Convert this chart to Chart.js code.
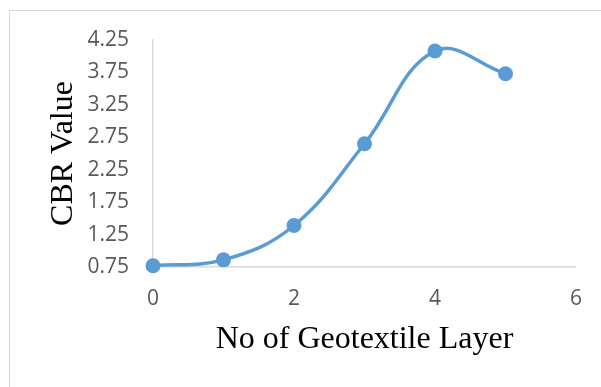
<!DOCTYPE html>
<html>
<head>
<meta charset="utf-8">
<script src="https://cdn.jsdelivr.net/npm/chart.js@4"></script>
<style>
    html, body {margin:0; padding:0; background:#fff;}
    #wrap {position:relative; width:601px; height:387px; overflow:hidden;}
    #frame {position:absolute; left:9px; top:10px; width:700px; height:500px; border:1px solid #d9d9d9;}
    #cbrChart {position:absolute; left:0; top:0;}
</style>
</head>
<body>
<div id="wrap">
    <div id="frame"></div>
    <canvas id="cbrChart" width="601" height="387"></canvas>
</div>
<script>
const layers = [0, 1, 2, 3, 4, 5];
const cbrValues = [0.77, 0.86, 1.39, 2.65, 4.08, 3.73];
const xTicks = [0, 2, 4, 6];
const yTicks = [0.75, 1.25, 1.75, 2.25, 2.75, 3.25, 3.75, 4.25];

const lineColor = "#5B9BD5";
const axisColor = "#d9d9d9";
const tickFont = {family: "'Open Sans'", size: 21};
const titleFont = {family: "'Liberation Serif'", size: 32};

let points = []
for(let i = 0; i < layers.length; i++){
    points.push({x: layers[i], y: cbrValues[i]})
}

const chartElement = document.getElementById("cbrChart");

const cbrChart = new Chart(chartElement, {
    type: "scatter",
    data: {
        datasets: [{
            data: points,
            showLine: true,
            clip: false,
            tension: 0.4,
            borderColor: lineColor,
            backgroundColor: lineColor,
            borderWidth: 3.5,
            pointRadius: 7.5,
            pointBorderWidth: 0
        }]
    },
    options: {
        responsive: false,
        animation: false,
        layout: {padding: {left: 0, top: 40, right: 22, bottom: 0}},
        plugins: {legend: {display: false}, tooltip: {enabled: false}},
        scales: {
            x: {
                type: "linear",
                min: xTicks[0],
                max: xTicks[xTicks.length - 1],
                afterBuildTicks: s => { s.ticks = xTicks.map(v => ({value: v})); },
                afterFit: s => { s.height = 120; },
                grid: {display: false, drawTicks: false},
                border: {display: true, color: axisColor, width: 1.5},
                ticks: {color: "#595959", font: tickFont, padding: 19},
                title: {display: true, text: "No of Geotextile Layer", color: "#000", font: titleFont, padding: {top: 0, bottom: 28}}
            },
            y: {
                min: yTicks[0],
                max: yTicks[yTicks.length - 1],
                afterBuildTicks: s => { s.ticks = yTicks.map(v => ({value: v})); },
                afterFit: s => { s.width = 153; },
                grid: {display: false, drawTicks: false},
                border: {display: true, color: axisColor, width: 1.5},
                ticks: {color: "#595959", font: tickFont, padding: 24, callback: v => v.toFixed(2)},
                title: {display: true, text: "CBR Value", color: "#000", font: titleFont, padding: {top: 44, bottom: 0}}
            }
        }
    }
});
</script>
</body>
</html>
